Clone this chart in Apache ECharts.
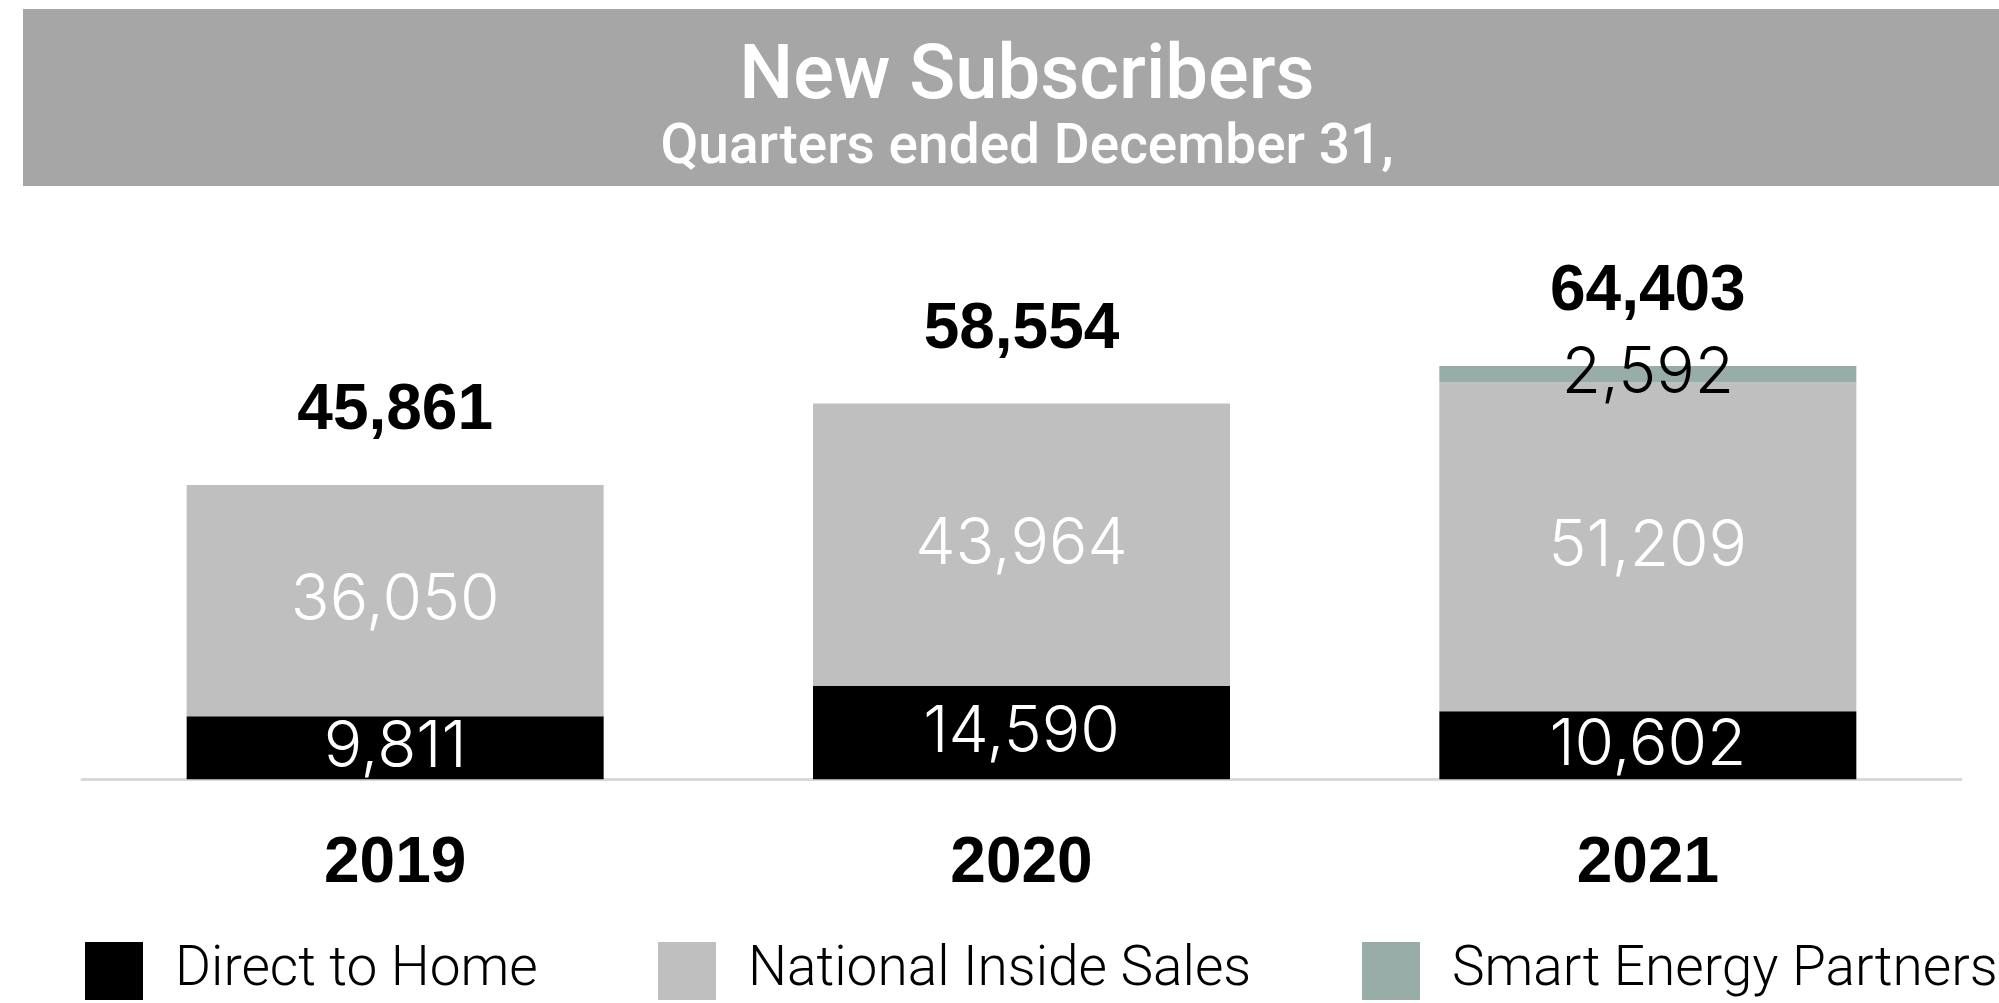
<!DOCTYPE html>
<html>
<head>
<meta charset="utf-8">
<title>New Subscribers</title>
<script src="https://cdn.jsdelivr.net/npm/echarts@6/dist/echarts.min.js"></script>
<style>
  html, body { margin: 0; padding: 0; background: #ffffff; }
  #chart { width: 1999px; height: 1003px; }
</style>
</head>
<body>
<div id="chart"></div>
<script>
// Quarterly new subscribers by channel
const years = ['2019', '2020', '2021'];
const directToHome = [9811, 14590, 10602];
const nationalInsideSales = [36050, 43964, 51209];
const smartEnergyPartners = ['-', '-', 2592];
const seriesNames = ['Direct to Home', 'National Inside Sales', 'Smart Energy Partners'];

// Stack totals shown above each bar
const totals = years.map((_, i) =>
  directToHome[i] + nationalInsideSales[i] + (typeof smartEnergyPartners[i] === 'number' ? smartEnergyPartners[i] : 0)
);

const fmt = v => Number(v).toLocaleString('en-US');
const COLORS = { direct: '#000000', national: '#bfbfbf', smart: '#98aca8' };
const segFont = { fontFamily: 'Inter', fontWeight: 300, fontSize: 64 };

const chart = echarts.init(document.getElementById('chart'), null, { renderer: 'canvas' });

const legendBase = {
  top: 942,
  padding: 0,
  itemWidth: 58,
  itemHeight: 58,
  icon: 'rect',
  selectedMode: false,
  textStyle: { fontFamily: 'Roboto', fontWeight: 300, fontSize: 55, color: '#000', padding: [28, 0, 0, 27] }
};

chart.setOption({
  animation: false,
  backgroundColor: '#ffffff',
  graphic: [{
    type: 'rect',
    z: -10,
    shape: { x: 23, y: 9, width: 1976, height: 177 },
    style: { fill: '#a6a6a6' }
  }],
  title: [{
    text: 'New Subscribers',
    left: 1022, top: 36, textAlign: 'center',
    textStyle: { color: '#ffffff', fontFamily: 'Roboto', fontWeight: 500, fontSize: 76 }
  }, {
    text: 'Quarters ended December 31,',
    left: 1022, top: 117, textAlign: 'center',
    textStyle: { color: '#ffffff', fontFamily: 'Roboto', fontWeight: 500, fontSize: 55 }
  }],
  legend: [
    Object.assign({}, legendBase, { left: 85, data: [seriesNames[0]] }),
    Object.assign({}, legendBase, { left: 658, data: [seriesNames[1]] }),
    Object.assign({}, legendBase, { left: 1362, data: [seriesNames[2]] })
  ],
  grid: { left: 82, right: 38, top: 330, height: 449.3, containLabel: false },
  xAxis: {
    type: 'category',
    data: years,
    offset: 2,
    axisLine: { lineStyle: { color: '#d9d9d9', width: 3 } },
    axisTick: { show: false },
    axisLabel: {
      margin: 51,
      color: '#000000',
      fontFamily: 'Liberation Sans',
      fontWeight: 'bold',
      fontSize: 64
    }
  },
  yAxis: {
    type: 'value',
    min: 0,
    max: 70000,
    show: false,
    splitLine: { show: false }
  },
  series: [{
    name: seriesNames[0],
    type: 'bar',
    stack: 'subs',
    barWidth: 417,
    data: directToHome,
    itemStyle: { color: COLORS.direct },
    label: Object.assign({ show: true, position: 'inside', color: '#ffffff', formatter: p => fmt(p.value) }, segFont)
  }, {
    name: seriesNames[1],
    type: 'bar',
    stack: 'subs',
    barWidth: 417,
    data: nationalInsideSales,
    itemStyle: { color: COLORS.national },
    label: Object.assign({ show: true, position: 'inside', color: '#ffffff', formatter: p => fmt(p.value) }, segFont)
  }, {
    name: seriesNames[2],
    type: 'bar',
    stack: 'subs',
    barWidth: 417,
    data: smartEnergyPartners,
    itemStyle: { color: COLORS.smart },
    label: Object.assign({ show: true, position: 'inside', color: '#000000', formatter: p => fmt(p.value) }, segFont)
  }, {
    name: 'Total',
    type: 'scatter',
    data: totals,
    symbolSize: 1,
    itemStyle: { color: 'rgba(0,0,0,0)', opacity: 1 },
    silent: true,
    label: {
      show: true,
      position: 'top',
      distance: 41,
      opacity: 1,
      color: '#000000',
      fontFamily: 'Liberation Sans',
      fontWeight: 'bold',
      fontSize: 64,
      formatter: p => fmt(p.value)
    }
  }]
});
</script>
</body>
</html>
